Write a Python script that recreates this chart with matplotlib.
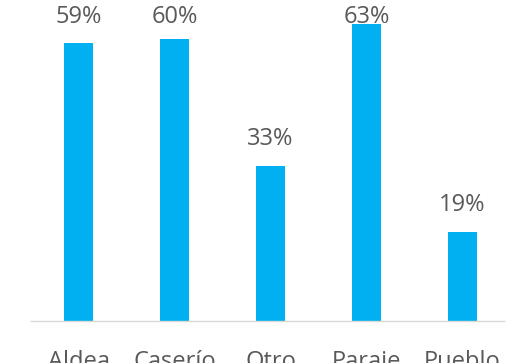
import matplotlib
matplotlib.use("Agg")
import matplotlib.pyplot as plt

categories = ["Aldea", "Caserío", "Otro", "Paraje", "Pueblo"]
values = [59, 60, 33, 63, 19]
value_labels = ["59%", "60%", "33%", "63%", "19%"]

BAR_COLOR = "#00B0F0"
TEXT_COLOR = "#595959"
AXIS_COLOR = "#D9D9D9"

plt.rcParams["font.family"] = ["Open Sans", "DejaVu Sans"]

fig = plt.figure(figsize=(5.29, 3.63), dpi=100)
ax = fig.add_axes([30.5 / 529, 42 / 363, 480 / 529, 321 / 363])

x = list(range(len(categories)))
ax.bar(x, values, width=0.31, color=BAR_COLOR)

ax.set_xlim(-0.5, 4.5)
ax.set_ylim(0, 68.2)

for spine in ["top", "right", "left"]:
    ax.spines[spine].set_visible(False)
ax.spines["bottom"].set_color(AXIS_COLOR)
ax.spines["bottom"].set_linewidth(1.0)
ax.spines["bottom"].set_bounds(-0.5, 4.43)
ax.set_yticks([])
ax.set_xticks([])

# etiquetas de valor: 21 px sobre la barra, pero sin salir por arriba
fig.canvas.draw()
top_px = fig.bbox.height - 23
for xi, v, lab in zip(x, values, value_labels):
    bar_px = ax.transData.transform((xi, v))[1]
    off = min(21, top_px - bar_px)
    ax.annotate(lab, xy=(xi, v), xytext=(0, off), textcoords="offset pixels",
                ha="center", va="baseline", fontsize=17, color=TEXT_COLOR,
                annotation_clip=False)

# nombres de categoria bajo el eje (cortados en el borde inferior)
for xi, cat in zip(x, categories):
    ax.annotate(cat, xy=(xi, 0), xytext=(0, -47), textcoords="offset pixels",
                ha="center", va="baseline", fontsize=17, color=TEXT_COLOR,
                annotation_clip=False)

fig.savefig("out.png", dpi=100)
